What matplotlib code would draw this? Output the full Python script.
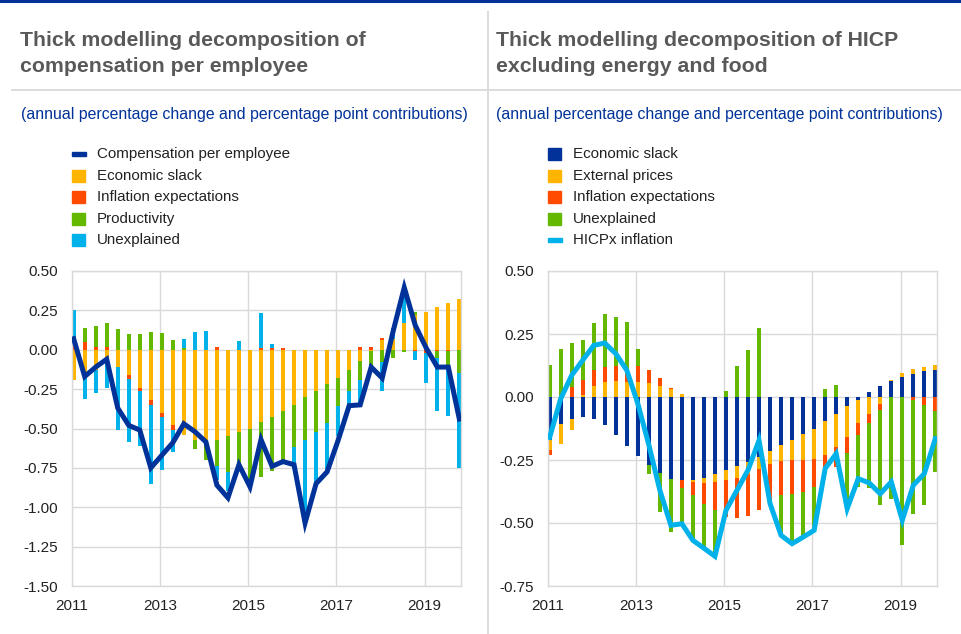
import matplotlib
matplotlib.use("Agg")
import matplotlib.pyplot as plt
from matplotlib.patches import Rectangle
from matplotlib.lines import Line2D
import numpy as np

plt.rcParams['font.family'] = ['Liberation Sans', 'DejaVu Sans']

# quarters 2011Q1 .. 2019Q4
years = ['2011', '2013', '2015', '2017', '2019']

# left panel: compensation per employee
cpe_slack = [-0.19, -0.16, -0.13, -0.07, -0.11, -0.16, -0.24, -0.32, -0.40, -0.48, -0.54, -0.57,
             -0.58, -0.57, -0.55, -0.52, -0.50, -0.46, -0.43, -0.39, -0.35, -0.30, -0.26, -0.22,
             -0.18, -0.13, -0.07, -0.01, 0.06, 0.07, 0.17, 0.22, 0.24, 0.27, 0.30, 0.32]
cpe_inflexp = [0.03, 0.05, 0.015, 0.015, 0.0, -0.023, -0.02, -0.03, -0.025, -0.028, 0.0, 0.0,
               0.0, 0.02, 0.0, 0.0, 0.0, 0.01, 0.01, 0.008, 0.0, 0.0, 0.0, 0.0,
               0.0, 0.0, 0.015, 0.015, 0.017, 0.0, 0.0, -0.008, -0.02, -0.01, -0.01, 0.0]
cpe_prod = [0.0, 0.09, 0.135, 0.155, 0.13, 0.10, 0.10, 0.115, 0.105, 0.06, 0.013, -0.06,
            -0.12, -0.17, -0.225, -0.21, -0.33, -0.35, -0.34, -0.31, -0.27, -0.27, -0.26, -0.245,
            -0.18, -0.135, -0.12, -0.10, -0.075, -0.05, -0.013, 0.02, 0.0, -0.04, -0.10, -0.15]
cpe_unexpl = [0.22, -0.155, -0.145, -0.175, -0.40, -0.405, -0.35, -0.505, -0.34, -0.14, 0.055, 0.11,
              0.12, -0.09, -0.12, 0.057, 0.0, 0.225, 0.025, 0.0, -0.11, -0.535, -0.335, -0.32,
              -0.185, -0.085, -0.165, 0.0, -0.19, 0.07, 0.19, -0.057, -0.19, -0.34, -0.31, -0.60]
cpe_line = [0.07, -0.17, -0.11, -0.06, -0.37, -0.48, -0.51, -0.75, -0.67, -0.59, -0.47, -0.52,
            -0.585, -0.86, -0.94, -0.73, -0.87, -0.57, -0.74, -0.71, -0.73, -1.10, -0.85, -0.775,
            -0.575, -0.355, -0.35, -0.11, -0.18, 0.12, 0.395, 0.155, 0.01, -0.11, -0.11, -0.44]

# right panel: HICP excluding energy and food
hx_slack = [-0.17, -0.108, -0.089, -0.079, -0.089, -0.112, -0.151, -0.193, -0.234, -0.271, -0.30, -0.324,
            -0.331, -0.331, -0.32, -0.307, -0.29, -0.275, -0.258, -0.238, -0.216, -0.192, -0.172, -0.148,
            -0.126, -0.097, -0.069, -0.037, -0.01, 0.02, 0.042, 0.063, 0.079, 0.091, 0.102, 0.106]
hx_ext = [-0.04, -0.079, -0.04, 0.007, 0.042, 0.06, 0.062, 0.06, 0.06, 0.056, 0.042, 0.03,
          0.01, -0.007, -0.02, -0.03, -0.04, -0.045, -0.046, -0.046, -0.05, -0.063, -0.079, -0.103,
          -0.119, -0.135, -0.13, -0.122, -0.095, -0.066, -0.026, 0.003, 0.016, 0.021, 0.017, 0.022]
hx_inflexp = [-0.02, 0.0, 0.04, 0.062, 0.066, 0.06, 0.06, 0.046, 0.062, 0.053, 0.034, 0.007,
              -0.03, -0.05, -0.085, -0.112, -0.145, -0.16, -0.17, -0.163, -0.156, -0.135, -0.132, -0.126,
              -0.112, -0.053, -0.079, -0.063, -0.046, -0.036, -0.024, 0.0, 0.0, -0.013, -0.033, -0.057]
hx_unexpl = [0.126, 0.19, 0.175, 0.156, 0.186, 0.209, 0.196, 0.19, 0.069, -0.036, -0.155, -0.21,
             -0.135, -0.18, -0.17, -0.18, 0.022, 0.122, 0.188, 0.274, 0.0, -0.159, -0.19, -0.179,
             -0.172, 0.033, 0.046, -0.221, -0.205, -0.258, -0.38, -0.403, -0.589, -0.45, -0.397, -0.241]
hx_line = [-0.16, -0.007, 0.086, 0.146, 0.205, 0.214, 0.172, 0.106, -0.026, -0.19, -0.37, -0.509,
           -0.503, -0.569, -0.60, -0.632, -0.45, -0.37, -0.29, -0.172, -0.423, -0.549, -0.582, -0.556,
           -0.529, -0.284, -0.225, -0.443, -0.324, -0.341, -0.384, -0.337, -0.489, -0.35, -0.304, -0.165]

BLUE = '#003299'
YELLOW = '#ffb400'
RED = '#ff4b00'
GREEN = '#65b800'
CYAN = '#00b1ea'
GRID = '#d9d9d9'
TITLE = '#595959'

W, H = 962, 634
fig = plt.figure(figsize=(W / 100, H / 100), dpi=100)


def fx(px):
    return px / W


def fy(py):
    return 1 - py / H


def stacked(ax, series, colors):
    x = np.arange(len(series[0]))
    pos = np.zeros(len(x))
    neg = np.zeros(len(x))
    for vals, c in zip(series, colors):
        v = np.array(vals)
        bottom = np.where(v >= 0, pos, neg)
        ax.bar(x, v, bottom=bottom, width=0.36, color=c, zorder=2, linewidth=0)
        pos += np.where(v >= 0, v, 0)
        neg += np.where(v < 0, v, 0)
    return x


def style(ax, ylim, yticks):
    ax.set_xlim(-0.15, 35.15)
    ax.set_ylim(*ylim)
    ax.set_yticks(yticks)
    ax.set_yticklabels(['%.2f' % t for t in yticks])
    ax.set_xticks([-0.15 + 8 * k for k in range(5)])
    ax.set_xticklabels(years)
    ax.grid(True, color=GRID, lw=1, zorder=0)
    ax.tick_params(length=0, labelsize=11, labelcolor='#222222')
    ax.tick_params(axis='y', pad=10)
    ax.tick_params(axis='x', pad=9)
    for s in ax.spines.values():
        s.set_color(GRID)
        s.set_linewidth(1)


# left chart
ax1 = fig.add_axes([fx(72), fy(586), fx(389), 315 / H])
x = stacked(ax1, [cpe_slack, cpe_inflexp, cpe_prod, cpe_unexpl], [YELLOW, RED, GREEN, CYAN])
ax1.plot(x, cpe_line, color=BLUE, lw=3.6, zorder=3, solid_joinstyle='miter')
style(ax1, (-1.5, 0.5), [0.5, 0.25, 0.0, -0.25, -0.5, -0.75, -1.0, -1.25, -1.5])

# right chart
ax2 = fig.add_axes([fx(548), fy(586), fx(389), 315 / H])
x = stacked(ax2, [hx_slack, hx_ext, hx_inflexp, hx_unexpl], [BLUE, YELLOW, RED, GREEN])
ax2.plot(x, hx_line, color=CYAN, lw=3.6, zorder=3, solid_joinstyle='miter')
style(ax2, (-0.75, 0.5), [0.5, 0.25, 0.0, -0.25, -0.5, -0.75])

# frame lines
fig.add_artist(Line2D([0, 1], [fy(1.3), fy(1.3)], color=BLUE, lw=2.2, transform=fig.transFigure))
fig.add_artist(Line2D([fx(12), 1], [fy(90), fy(90)], color=GRID, lw=1.3, transform=fig.transFigure))
fig.add_artist(Line2D([fx(488), fx(488)], [fy(12), 0], color=GRID, lw=1.3, transform=fig.transFigure))

# titles
fig.text(fx(20), fy(31), 'Thick modelling decomposition of\ncompensation per employee',
         fontsize=15.3, fontweight='bold', color=TITLE, va='top', linespacing=1.45)
fig.text(fx(496), fy(31), 'Thick modelling decomposition of HICP\nexcluding energy and food',
         fontsize=15.3, fontweight='bold', color=TITLE, va='top', linespacing=1.45)
sub = '(annual percentage change and percentage point contributions)'
fig.text(fx(21), fy(115), sub, fontsize=11.4, color=BLUE, va='center')
fig.text(fx(496), fy(115), sub, fontsize=11.4, color=BLUE, va='center')

# legends
rows = [154, 176, 197, 219, 240]
left_items = [('line', BLUE, 'Compensation per employee'), ('box', YELLOW, 'Economic slack'),
              ('box', RED, 'Inflation expectations'), ('box', GREEN, 'Productivity'),
              ('box', CYAN, 'Unexplained')]
right_items = [('box', BLUE, 'Economic slack'), ('box', YELLOW, 'External prices'),
               ('box', RED, 'Inflation expectations'), ('box', GREEN, 'Unexplained'),
               ('line', CYAN, 'HICPx inflation')]


def legend(items, x0):
    for (kind, c, label), yc in zip(items, rows):
        if kind == 'box':
            fig.add_artist(Rectangle((fx(x0), fy(yc + 6)), fx(13), 12 / H, color=c,
                                     transform=fig.transFigure))
        else:
            fig.add_artist(Rectangle((fx(x0), fy(yc + 2)), fx(14), 4 / H, color=c,
                                     transform=fig.transFigure))
        fig.text(fx(x0 + 25), fy(yc), label, fontsize=10.9, color='#222222', va='center')


legend(left_items, 72)
legend(right_items, 548)

fig.savefig('out.png', dpi=100)
